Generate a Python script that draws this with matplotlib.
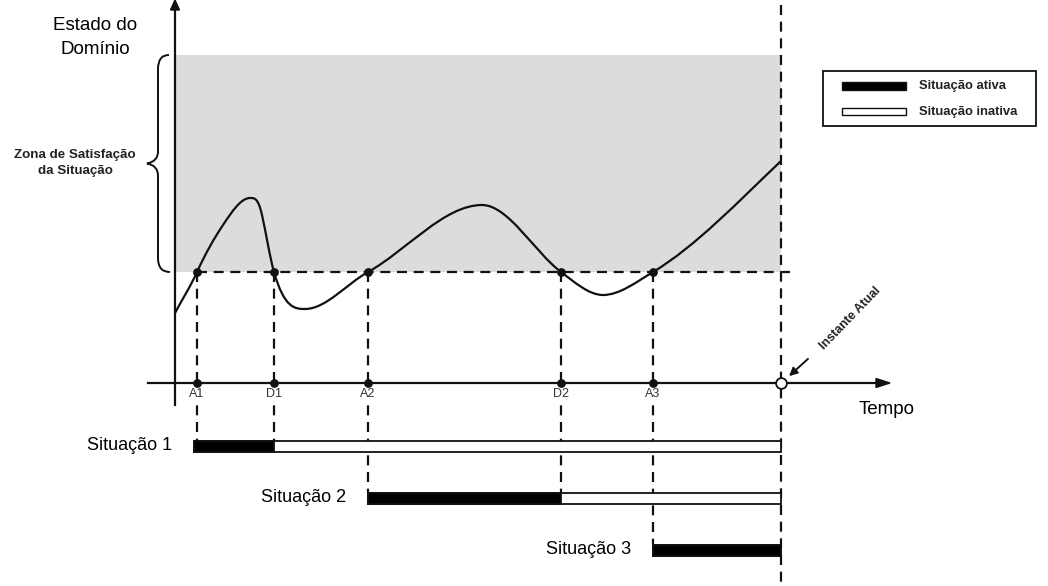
import numpy as np
import matplotlib.pyplot as plt
from matplotlib.path import Path
from matplotlib.patches import PathPatch, Rectangle

plt.rcParams['font.family'] = ['Liberation Sans', 'DejaVu Sans']

# diagram works in pixel units (x right, y down)
event_names = ["A1", "D1", "A2", "D2", "A3"]
event_t = [197, 274, 368, 561, 653]
now_t = 781

# curve knots: position and slope (dy/dx)
knot_x = [175, 197, 223, 250, 262, 274, 305, 368, 482, 561, 603, 653, 781]
knot_y = [313, 272, 225, 198, 215, 272, 309, 272, 205, 272, 295, 272, 161]
knot_s = [-1.9, -2.2, -1.5, 0.0, 4.5, 3.5, 0.0, -0.55, 0.0, 0.75, 0.0, -0.6, -0.95]

zone_top, zone_bottom = 55, 272

sit_names = ["Situação 1", "Situação 2", "Situação 3"]
sit_start = [194, 368, 653]
sit_end_active = [274, 561, 781]
sit_row = [446, 498, 550]

fig = plt.figure(figsize=(10.48, 5.86), dpi=100)
ax = fig.add_axes([0, 0, 1, 1])
ax.set_xlim(0, 1048)
ax.set_ylim(586, 0)
ax.axis("off")

# satisfaction zone
ax.add_patch(Rectangle((175, zone_top), now_t - 175, zone_bottom - zone_top,
                       facecolor="#dcdcdc", edgecolor="none", zorder=0))

# axes with arrows
ax.plot([175, 175], [405, 8], color="#111111", lw=1.6, zorder=3)
ax.plot([148, 880], [383, 383], color="#111111", lw=1.6, zorder=3)
ax.fill([170.5, 179.5, 175], [10, 10, 0], color="#111111", zorder=3)
ax.fill([876, 876, 890], [378.5, 387.5, 383], color="#111111", zorder=3)

dash = dict(color="#111111", lw=1.6, ls=(0, (4.5, 3)), zorder=2)

# threshold and "now" lines
ax.plot([event_t[0], 790], [zone_bottom, zone_bottom], **dash)
ax.plot([now_t, now_t], [5, 583], **dash)

# vertical lines from events to situation bars
drop_to = [440, 440, 492, 492, 544]
for t, y1 in zip(event_t, drop_to):
    ax.plot([t, t], [zone_bottom, y1], **dash)

# curve as hermite segments through knots
verts = [(knot_x[0], knot_y[0])]
codes = [Path.MOVETO]
for i in range(len(knot_x) - 1):
    dx = (knot_x[i + 1] - knot_x[i]) / 3
    verts += [(knot_x[i] + dx, knot_y[i] + dx * knot_s[i]),
              (knot_x[i + 1] - dx, knot_y[i + 1] - dx * knot_s[i + 1]),
              (knot_x[i + 1], knot_y[i + 1])]
    codes += [Path.CURVE4] * 3
ax.add_patch(PathPatch(Path(verts, codes), facecolor="none",
                       edgecolor="#111111", lw=1.6, zorder=4))

# event dots
ax.scatter(event_t, [zone_bottom] * 5, s=28, color="#111111", zorder=5)
ax.scatter(event_t, [383] * 5, s=28, color="#111111", zorder=5)
for t, name in zip(event_t, event_names):
    ax.text(t, 394, name, ha="center", va="center", fontsize=9, color="#333333",
            bbox=dict(facecolor="white", edgecolor="none", pad=0.5), zorder=4)

# current instant
ax.scatter([now_t], [383], s=60, facecolor="white", edgecolor="#111111",
           linewidth=1.3, zorder=6)
ax.annotate("", xy=(787, 378), xytext=(810, 357),
            arrowprops=dict(arrowstyle="-|>", color="#111111", lw=1.4,
                            mutation_scale=12), zorder=6)
ax.text(850, 318, "Instante Atual", rotation=46, ha="center", va="center",
        fontsize=9, fontweight="bold", color="#222222")

# axis titles
ax.text(95, 26, "Estado do", ha="center", va="center", fontsize=13.5)
ax.text(95, 49, "Domínio", ha="center", va="center", fontsize=13.5)
ax.text(887, 410, "Tempo", ha="center", va="center", fontsize=13.5)

# brace for the satisfaction zone
bx = 158
mid = (zone_top + zone_bottom) / 2
bverts = [(169, zone_top), (bx, zone_top), (bx, zone_top + 14),
          (bx, mid - 12), (bx, mid - 2), (147, mid),
          (bx, mid + 2), (bx, mid + 12),
          (bx, zone_bottom - 14), (bx, zone_bottom), (170, zone_bottom)]
bcodes = [Path.MOVETO, Path.CURVE3, Path.CURVE3,
          Path.LINETO, Path.CURVE3, Path.CURVE3,
          Path.CURVE3, Path.CURVE3,
          Path.LINETO, Path.CURVE3, Path.CURVE3]
ax.add_patch(PathPatch(Path(bverts, bcodes), facecolor="none",
                       edgecolor="#111111", lw=1.4))
ax.text(75, 155, "Zona de Satisfação", ha="center", va="center",
        fontsize=9.6, fontweight="bold", color="#222222")
ax.text(75, 171, "da Situação", ha="center", va="center",
        fontsize=9.6, fontweight="bold", color="#222222")

# situation bars
bar_h = 11
for name, s, e, y in zip(sit_names, sit_start, sit_end_active, sit_row):
    ax.barh(y, now_t - s, left=s, height=bar_h, color="white",
            edgecolor="#111111", linewidth=1.3, zorder=3)
    ax.barh(y, e - s, left=s, height=bar_h, color="#000000",
            edgecolor="#111111", linewidth=1.3, zorder=3)
    ax.text(s - 22, y, name, ha="right", va="center", fontsize=13)

# legend box
ax.add_patch(Rectangle((823, 71), 213, 55, facecolor="white",
                       edgecolor="#111111", lw=1.3, zorder=3))
ax.add_patch(Rectangle((842, 82), 64, 8, facecolor="black",
                       edgecolor="#111111", lw=1.0, zorder=4))
ax.add_patch(Rectangle((842, 108), 64, 7, facecolor="white",
                       edgecolor="#111111", lw=1.0, zorder=4))
ax.text(919, 86, "Situação ativa", ha="left", va="center", fontsize=9.4,
        fontweight="bold", color="#222222", zorder=5)
ax.text(919, 112, "Situação inativa", ha="left", va="center", fontsize=9.4,
        fontweight="bold", color="#222222", zorder=5)

fig.savefig("out.png", dpi=100)
